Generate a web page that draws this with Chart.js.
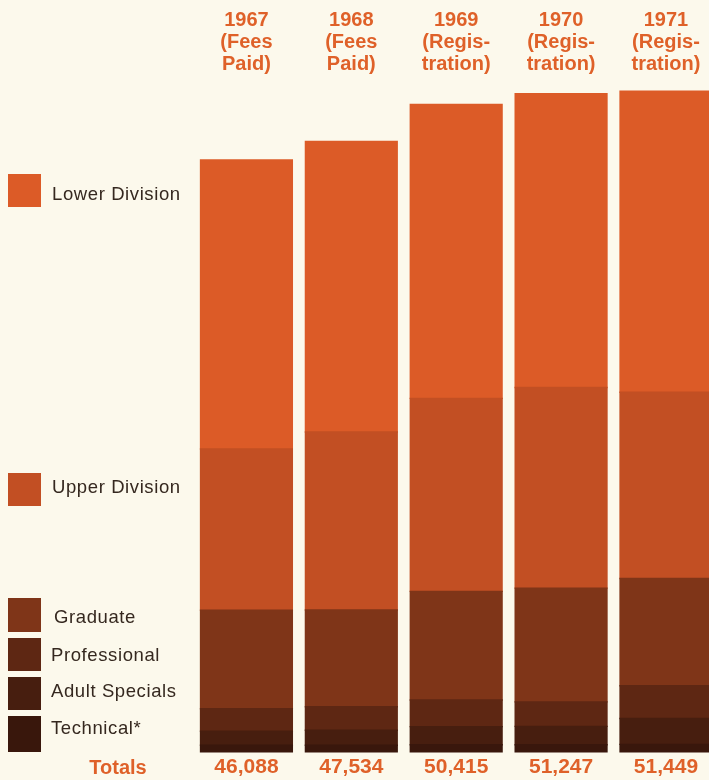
<!DOCTYPE html>
<html>
<head>
<meta charset="utf-8">
<title>Enrollment 1967-1971</title>
<script src="https://cdn.jsdelivr.net/npm/chart.js@4.4.0/dist/chart.umd.min.js"></script>
<style>
    html, body { margin: 0; padding: 0; background: #fcf9ec; overflow: hidden; }
    #wrap { width: 709px; height: 780px; overflow: hidden; }
    canvas { display: block; }
</style>
</head>
<body>
<div id="wrap"><canvas id="enrollmentChart" width="730" height="780"></canvas></div>
<script>
// Column headings (one entry per year, one string per line)
const yearLabels = [
    ['1967', '(Fees', 'Paid)'],
    ['1968', '(Fees', 'Paid)'],
    ['1969', '(Regis-', 'tration)'],
    ['1970', '(Regis-', 'tration)'],
    ['1971', '(Regis-', 'tration)'],
];

// Printed totals per year
const totals = [46088, 47534, 50415, 51247, 51449];

// Enrollment by level, bottom of the stack first
const technical      = [568, 569, 600, 602, 629];
const adultSpecials  = [1080, 1165, 1415, 1430, 2010];
const professional   = [1750, 1830, 2065, 1905, 2550];
const graduate       = [7670, 7520, 8455, 8850, 8350];
const upperDivision  = [12540, 13850, 15010, 15600, 14480];
const lowerDivision  = [22480, 22600, 22870, 22860, 23430];

const ORANGE = '#df6129';
const TEXT_DARK = '#35281f';
const FONT = "'Liberation Sans', Arial, Helvetica, sans-serif";

const series = [
    { label: 'Technical*',     data: technical,     color: '#39170c' },
    { label: 'Adult Specials', data: adultSpecials, color: '#471e0f' },
    { label: 'Professional',   data: professional,  color: '#5e2713' },
    { label: 'Graduate',       data: graduate,      color: '#7f3518' },
    { label: 'Upper Division', data: upperDivision, color: '#c24f23' },
    { label: 'Lower Division', data: lowerDivision, color: '#dc5b27' },
];

// Totals under each column come from the stacked values themselves
const stackSums = yearLabels.map((_, i) => series.reduce((s, d) => s + d.data[i], 0));
const totalLabels = stackSums.map(v => v.toLocaleString('en-US'));

// Legend down the left side: [label, box top, box height, text centre y, text x]
const legendRows = [
    ['Lower Division', 174, 33, 195, 52],
    ['Upper Division', 473, 33, 488, 52],
    ['Graduate',       598, 34, 618, 54],
    ['Professional',   638, 33, 656, 51],
    ['Adult Specials', 677, 33, 692, 51],
    ['Technical*',     716, 36, 729, 51],
];

const sideLegend = {
    id: 'sideLegend',
    afterDraw(chart) {
        const ctx = chart.ctx;
        ctx.save();
        legendRows.forEach(([label, top, h, ty, tx]) => {
            const ds = series.find(s => s.label === label);
            ctx.fillStyle = ds.color;
            ctx.fillRect(8, top, 33, h);
            ctx.fillStyle = TEXT_DARK;
            ctx.font = `18.5px ${FONT}`;
            ctx.letterSpacing = '0.6px';
            ctx.textBaseline = 'middle';
            ctx.textAlign = 'left';
            ctx.fillText(label, tx, ty);
        });
        // "Totals" caption on the totals row
        ctx.letterSpacing = '0px';
        ctx.fillStyle = ORANGE;
        ctx.font = `bold 20px ${FONT}`;
        ctx.textAlign = 'center';
        ctx.fillText('Totals', 118, 768);
        ctx.restore();
    }
};

const ctx = document.getElementById('enrollmentChart').getContext('2d');
new Chart(ctx, {
    type: 'bar',
    data: {
        labels: yearLabels,
        datasets: series.map(s => ({
            label: s.label,
            data: s.data,
            backgroundColor: s.color,
            borderWidth: 0,
            inflateAmount: 0.7,
            barPercentage: 0.875,
            categoryPercentage: 1.0,
        }))
    },
    options: {
        responsive: false,
        animation: false,
        layout: { padding: { left: 194, right: 11.6, top: 0, bottom: 0 } },
        plugins: {
            legend: { display: false },
            tooltip: { enabled: false },
        },
        scales: {
            x: {
                position: 'top',
                stacked: true,
                grid: { display: false, drawTicks: false },
                border: { display: false },
                ticks: {
                    color: ORANGE,
                    autoSkip: false,
                    maxRotation: 0,
                    padding: 8,
                    font: { family: FONT, size: 20, weight: 'bold', lineHeight: 1.11 },
                },
                afterFit: (scale) => { scale.height = 84; },
            },
            totalsAxis: {
                type: 'category',
                position: 'bottom',
                labels: totalLabels,
                offset: true,
                grid: { display: false, drawTicks: false },
                border: { display: false },
                ticks: {
                    color: ORANGE,
                    autoSkip: false,
                    maxRotation: 0,
                    padding: 4.5,
                    font: { family: FONT, size: 21, weight: 'bold', lineHeight: 1 },
                },
                afterFit: (scale) => { scale.height = 27.5; },
            },
            y: {
                stacked: true,
                display: false,
                min: 0,
                max: 52000,
            }
        }
    },
    plugins: [sideLegend]
});
</script>
</body>
</html>
